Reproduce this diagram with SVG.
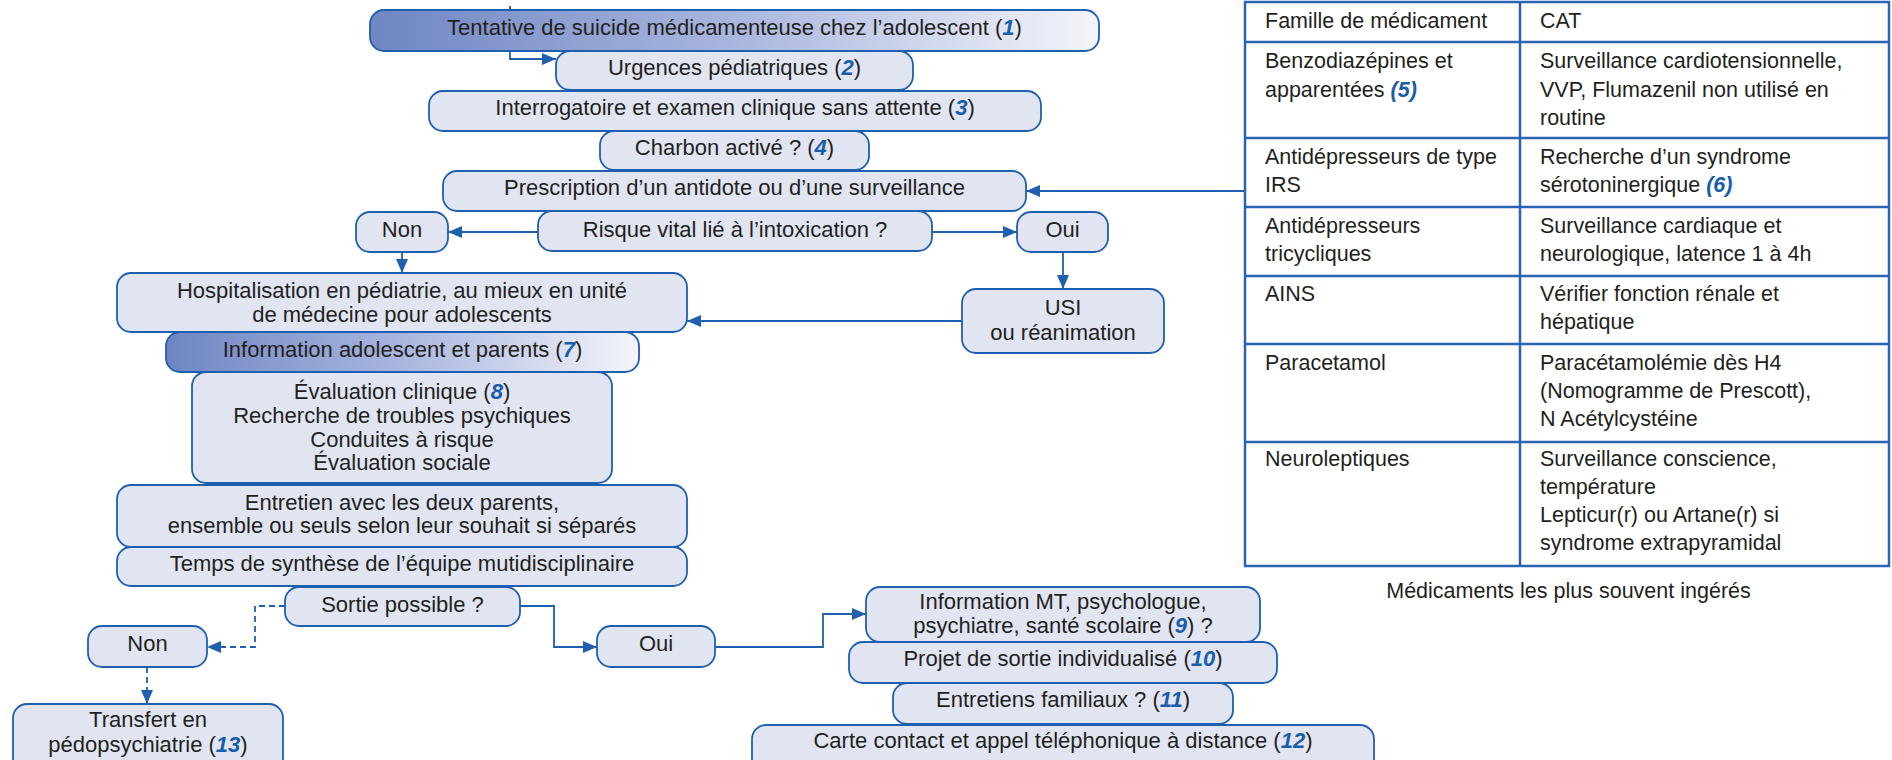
<svg xmlns="http://www.w3.org/2000/svg" width="1892" height="760" viewBox="0 0 1892 760">
<defs>
<linearGradient id="grad" x1="0" y1="0" x2="1" y2="0">
<stop offset="0" stop-color="#6f86c3"/>
<stop offset="0.5" stop-color="#a9b6de"/>
<stop offset="1" stop-color="#f4f5fa"/>
</linearGradient>
<marker id="arr" markerUnits="userSpaceOnUse" markerWidth="14" markerHeight="12" refX="14" refY="6" orient="auto">
<path d="M0,0 L14,6 L0,12 z" fill="#1f5fb0"/>
</marker>
<style>
.box{fill:#e1e5f2;stroke:#1f5fb0;stroke-width:1.8}
.gbox{fill:url(#grad);stroke:#1f5fb0;stroke-width:1.8}
.t{font-family:"Liberation Sans",Arial,sans-serif;font-size:22px;fill:#231f20;text-anchor:middle}
.tt{font-family:"Liberation Sans",Arial,sans-serif;font-size:21.5px;fill:#231f20}
.n{font-weight:bold;font-style:italic;fill:#1a5daa}
.c{fill:none;stroke:#1f5fb0;stroke-width:1.8}
.d{stroke-dasharray:6 4}
.tab{fill:none;stroke:#2a63b3;stroke-width:2.5}
</style>
</defs>

<g id="connectors">
<path class="c" d="M510,6 V59 H556" marker-end="url(#arr)"/>
<path class="c" d="M1245,191 H1026" marker-end="url(#arr)"/>
<path class="c" d="M538,232 H448" marker-end="url(#arr)"/>
<path class="c" d="M932,232 H1017" marker-end="url(#arr)"/>
<path class="c" d="M402,252 V273" marker-end="url(#arr)"/>
<path class="c" d="M1063,252 V289" marker-end="url(#arr)"/>
<path class="c" d="M962,321 H687" marker-end="url(#arr)"/>
<path class="c d" d="M285,606 H255 V647 H207" marker-end="url(#arr)"/>
<path class="c d" d="M147,667 V704" marker-end="url(#arr)"/>
<path class="c" d="M520,606 H554 V647 H597" marker-end="url(#arr)"/>
<path class="c" d="M715,647 H823 V614 H866" marker-end="url(#arr)"/>
</g>

<g id="n1"><rect class="gbox" x="370" y="10" width="729" height="41" rx="14"/>
<text class="t" x="734.5" y="35">Tentative de suicide médicamenteuse chez l’adolescent (<tspan class="n">1</tspan>)</text></g>
<g id="n2"><rect class="box" x="556" y="51" width="357" height="39" rx="14"/>
<text class="t" x="734.5" y="75">Urgences pédiatriques (<tspan class="n">2</tspan>)</text></g>
<g id="n3"><rect class="box" x="429" y="91" width="612" height="40" rx="14"/>
<text class="t" x="735" y="115">Interrogatoire et examen clinique sans attente (<tspan class="n">3</tspan>)</text></g>
<g id="n4"><rect class="box" x="600" y="131" width="269" height="39" rx="14"/>
<text class="t" x="734.5" y="155">Charbon activé ? (<tspan class="n">4</tspan>)</text></g>
<g id="n5"><rect class="box" x="443" y="171" width="583" height="40" rx="14"/>
<text class="t" x="734.5" y="195">Prescription d’un antidote ou d’une surveillance</text></g>
<g id="non1"><rect class="box" x="356" y="212" width="92" height="40" rx="14"/>
<text class="t" x="402" y="237">Non</text></g>
<g id="risque"><rect class="box" x="538" y="211" width="394" height="40" rx="14"/>
<text class="t" x="735" y="237">Risque vital lié à l’intoxication ?</text></g>
<g id="oui1"><rect class="box" x="1017" y="212" width="91" height="40" rx="14"/>
<text class="t" x="1062.5" y="237">Oui</text></g>
<g id="usi"><rect class="box" x="962" y="289" width="202" height="64" rx="14"/>
<text class="t" x="1063" y="315">USI</text>
<text class="t" x="1063" y="340">ou réanimation</text></g>
<g id="hosp"><rect class="box" x="117" y="273" width="570" height="59" rx="14"/>
<text class="t" x="402" y="298">Hospitalisation en pédiatrie, au mieux en unité</text>
<text class="t" x="402" y="322">de médecine pour adolescents</text></g>
<g id="info"><rect class="gbox" x="166" y="332" width="473" height="40" rx="14"/>
<text class="t" x="402.5" y="357">Information adolescent et parents (<tspan class="n">7</tspan>)</text></g>
<g id="eval"><rect class="box" x="192" y="372" width="420" height="111" rx="14"/>
<text class="t" x="402" y="399">Évaluation clinique (<tspan class="n">8</tspan>)</text>
<text class="t" x="402" y="423">Recherche de troubles psychiques</text>
<text class="t" x="402" y="447">Conduites à risque</text>
<text class="t" x="402" y="470">Évaluation sociale</text></g>
<g id="entretien"><rect class="box" x="117" y="485" width="570" height="62" rx="14"/>
<text class="t" x="402" y="510">Entretien avec les deux parents,</text>
<text class="t" x="402" y="533">ensemble ou seuls selon leur souhait si séparés</text></g>
<g id="temps"><rect class="box" x="117" y="547" width="570" height="39" rx="14"/>
<text class="t" x="402" y="571">Temps de synthèse de l’équipe mutidisciplinaire</text></g>
<g id="sortie"><rect class="box" x="285" y="587" width="235" height="39" rx="14"/>
<text class="t" x="402.5" y="612">Sortie possible ?</text></g>
<g id="non2"><rect class="box" x="88" y="626" width="119" height="41" rx="14"/>
<text class="t" x="147.5" y="651">Non</text></g>
<g id="transfert"><rect class="box" x="13" y="704" width="270" height="68" rx="14"/>
<text class="t" x="148" y="727">Transfert en</text>
<text class="t" x="148" y="752">pédopsychiatrie (<tspan class="n">13</tspan>)</text></g>
<g id="oui2"><rect class="box" x="597" y="626" width="118" height="41" rx="14"/>
<text class="t" x="656" y="651">Oui</text></g>
<g id="infomt"><rect class="box" x="866" y="587" width="394" height="55" rx="14"/>
<text class="t" x="1063" y="609">Information MT, psychologue,</text>
<text class="t" x="1063" y="633">psychiatre, santé scolaire (<tspan class="n">9</tspan>) ?</text></g>
<g id="projet"><rect class="box" x="849" y="642" width="428" height="41" rx="14"/>
<text class="t" x="1063" y="666">Projet de sortie individualisé (<tspan class="n">10</tspan>)</text></g>
<g id="entfam"><rect class="box" x="893" y="683" width="340" height="41" rx="14"/>
<text class="t" x="1063" y="707">Entretiens familiaux ? (<tspan class="n">11</tspan>)</text></g>
<g id="carte"><rect class="box" x="752" y="725" width="622" height="50" rx="14"/>
<text class="t" x="1063" y="748">Carte contact et appel téléphonique à distance (<tspan class="n">12</tspan>)</text></g>

<g id="table">
<rect x="1245" y="2" width="644" height="564" fill="#ffffff"/>
<path class="tab" d="M1245,2 H1889 V566 H1245 Z M1520,2 V566 M1245,42 H1889 M1245,138 H1889 M1245,207 H1889 M1245,276 H1889 M1245,344 H1889 M1245,442 H1889"/>
<text class="tt" x="1265" y="28">Famille de médicament</text>
<text class="tt" x="1540" y="28">CAT</text>
<text class="tt" x="1265" y="68">Benzodiazépines et</text>
<text class="tt" x="1265" y="97">apparentées <tspan class="n">(5)</tspan></text>
<text class="tt" x="1540" y="68">Surveillance cardiotensionnelle,</text>
<text class="tt" x="1540" y="97">VVP, Flumazenil non utilisé en</text>
<text class="tt" x="1540" y="125">routine</text>
<text class="tt" x="1265" y="164">Antidépresseurs de type</text>
<text class="tt" x="1265" y="192">IRS</text>
<text class="tt" x="1540" y="164">Recherche d’un syndrome</text>
<text class="tt" x="1540" y="192">sérotoninergique <tspan class="n">(6)</tspan></text>
<text class="tt" x="1265" y="233">Antidépresseurs</text>
<text class="tt" x="1265" y="261">tricycliques</text>
<text class="tt" x="1540" y="233">Surveillance cardiaque et</text>
<text class="tt" x="1540" y="261">neurologique, latence 1 à 4h</text>
<text class="tt" x="1265" y="301">AINS</text>
<text class="tt" x="1540" y="301">Vérifier fonction rénale et</text>
<text class="tt" x="1540" y="329">hépatique</text>
<text class="tt" x="1265" y="370">Paracetamol</text>
<text class="tt" x="1540" y="370">Paracétamolémie dès H4</text>
<text class="tt" x="1540" y="398">(Nomogramme de Prescott),</text>
<text class="tt" x="1540" y="426">N Acétylcystéine</text>
<text class="tt" x="1265" y="466">Neuroleptiques</text>
<text class="tt" x="1540" y="466">Surveillance conscience,</text>
<text class="tt" x="1540" y="494">température</text>
<text class="tt" x="1540" y="522">Lepticur(r) ou Artane(r) si</text>
<text class="tt" x="1540" y="550">syndrome extrapyramidal</text>
</g>
<g id="caption">
<text class="tt" x="1568.5" y="598" text-anchor="middle">Médicaments les plus souvent ingérés</text>
</g>
</svg>
